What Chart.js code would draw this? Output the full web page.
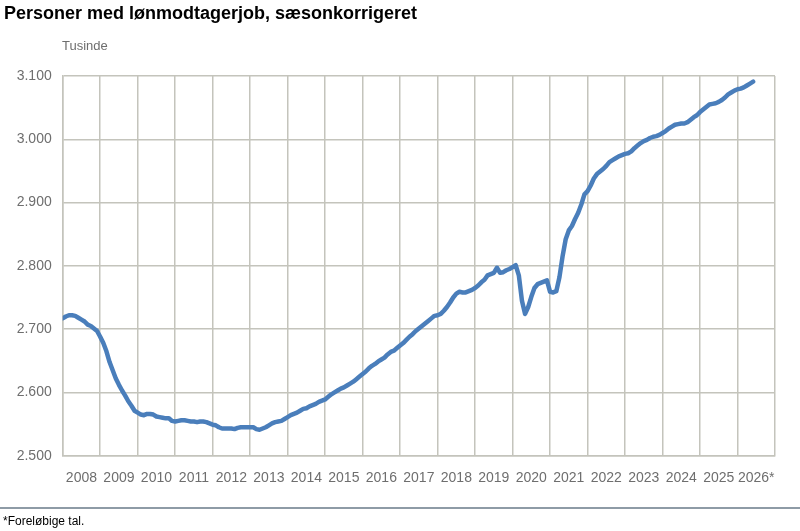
<!DOCTYPE html>
<html>
<head>
<meta charset="utf-8">
<script src="https://cdn.jsdelivr.net/npm/chart.js@4"></script>
<style>
  body { margin: 0; background: #fff; font-family: "Liberation Sans", Arial, sans-serif; }
  #wrap { position: relative; width: 800px; height: 531px; }
  #chart { position: absolute; left: 0; top: 0; }
  .title { position: absolute; left: 4px; top: 3px; font-size: 18px; font-weight: bold; color: #000; }
  .unit { position: absolute; left: 62px; top: 38px; font-size: 13px; color: #6e6e6e; }
  .rule { position: absolute; left: 0; top: 507px; width: 800px; height: 2px; background: #8e9ba6; }
  .note { position: absolute; left: 3px; top: 514px; font-size: 12px; color: #000; }
</style>
</head>
<body>
<div id="wrap">
  <canvas id="chart" width="800" height="531"></canvas>
  <div class="title">Personer med lønmodtagerjob, sæsonkorrigeret</div>
  <div class="unit">Tusinde</div>
  <div class="rule"></div>
  <div class="note">*Foreløbige tal.</div>
</div>
<script>
// x axis categories, one per year
var yearLabels = ['2008', '2009', '2010', '2011', '2012', '2013', '2014', '2015', '2016',
  '2017', '2018', '2019', '2020', '2021', '2022', '2023', '2024', '2025', '2026*']

// persons in wage jobs, thousands, monthly from jan 2008
var employees = [
  2717, 2720, 2722, 2722, 2721, 2718, 2715, 2712, 2707, 2705, 2701, 2697, // 2008
  2688, 2678, 2665, 2648, 2635, 2622, 2612, 2603, 2595, 2586, 2579, 2571, // 2009
  2568, 2565, 2564, 2566, 2566, 2565, 2562, 2561, 2560, 2559, 2559, 2555, // 2010
  2554, 2555, 2556, 2556, 2555, 2554, 2554, 2553, 2554, 2554, 2553, 2551, // 2011
  2549, 2548, 2545, 2543, 2543, 2543, 2543, 2542, 2544, 2545, 2545, 2545, // 2012
  2545, 2545, 2542, 2541, 2543, 2545, 2548, 2551, 2553, 2554, 2555, 2558, // 2013
  2561, 2564, 2566, 2568, 2571, 2574, 2575, 2578, 2580, 2582, 2585, 2587, // 2014
  2589, 2593, 2597, 2600, 2603, 2606, 2608, 2611, 2614, 2617, 2621, 2625, // 2015
  2629, 2633, 2638, 2642, 2645, 2649, 2652, 2655, 2660, 2664, 2666, 2670, // 2016
  2674, 2678, 2683, 2688, 2692, 2697, 2701, 2705, 2709, 2713, 2717, 2721, // 2017
  2722, 2724, 2729, 2735, 2742, 2750, 2756, 2759, 2758, 2758, 2760, 2762, // 2018
  2765, 2769, 2774, 2778, 2785, 2787, 2789, 2797, 2789, 2790, 2793, 2795, // 2019
  2798, 2801, 2785, 2745, 2724, 2735, 2751, 2765, 2771, 2773, 2775, 2777, // 2020
  2759, 2758, 2760, 2782, 2815, 2842, 2856, 2863, 2874, 2884, 2897, 2913, // 2021
  2918, 2927, 2938, 2945, 2949, 2953, 2958, 2964, 2967, 2970, 2973, 2975, // 2022
  2977, 2978, 2981, 2986, 2990, 2994, 2997, 2999, 3002, 3004, 3005, 3007, // 2023
  3010, 3013, 3017, 3020, 3023, 3024, 3025, 3025, 3027, 3031, 3035, 3038, // 2024
  3043, 3047, 3051, 3055, 3056, 3057, 3059, 3062, 3066, 3071, 3074, 3077, // 2025
  3079, 3080, 3082, 3085, 3088, 3091                                      // 2026
]

var yMin = 2500
var yMax = 3100
var yStep = 100

var gridColor = '#c4c4bc'
var tickColor = '#6e6e6e'

var points = employees.map(function(v, i) {
  return { x: i, y: v }
})

var formatThousands = function(v) {
  return String(v).replace(/\B(?=(\d{3})+(?!\d))/g, '.')
}

var context = document.getElementById('chart')
var chart = new Chart(context, {
  type: 'line',
  data: {
    datasets: [{
      label: 'Personer med lønmodtagerjob',
      data: points,
      borderColor: '#4a7ebb',
      borderWidth: 4.5,
      borderCapStyle: 'round',
      borderJoinStyle: 'round',
      pointRadius: 0,
      tension: 0,
      xAxisID: 'x',
      yAxisID: 'y'
    }]
  },
  options: {
    responsive: false,
    animation: false,
    devicePixelRatio: 1,
    layout: { padding: { top: 76, right: 25, left: 0, bottom: 0 } },
    plugins: {
      legend: { display: false },
      tooltip: { enabled: false }
    },
    scales: {
      x: {
        type: 'linear',
        position: 'bottom',
        min: 0,
        max: yearLabels.length * 12,
        ticks: { display: false, stepSize: 12 },
        grid: { color: gridColor, lineWidth: 1.5, drawTicks: false },
        border: { color: gridColor, width: 1.5 },
        afterFit: function(scale) { scale.height = 0 }
      },
      x2: {
        type: 'category',
        position: 'bottom',
        labels: yearLabels,
        offset: true,
        grid: { display: false, drawTicks: false },
        border: { display: false },
        ticks: {
          color: tickColor,
          padding: 14,
          maxRotation: 0,
          autoSkip: false,
          font: { family: 'Liberation Sans', size: 14 }
        },
        afterFit: function(scale) { scale.height = 75.3 }
      },
      y: {
        min: yMin,
        max: yMax,
        ticks: {
          stepSize: yStep,
          color: tickColor,
          padding: 11,
          font: { family: 'Liberation Sans', size: 14 },
          callback: function(v) { return formatThousands(v) }
        },
        grid: { color: gridColor, lineWidth: 1.5, drawTicks: false },
        border: { color: gridColor, width: 1.5 },
        afterFit: function(scale) { scale.width = 62.7 }
      }
    }
  }
})
</script>
</body>
</html>
